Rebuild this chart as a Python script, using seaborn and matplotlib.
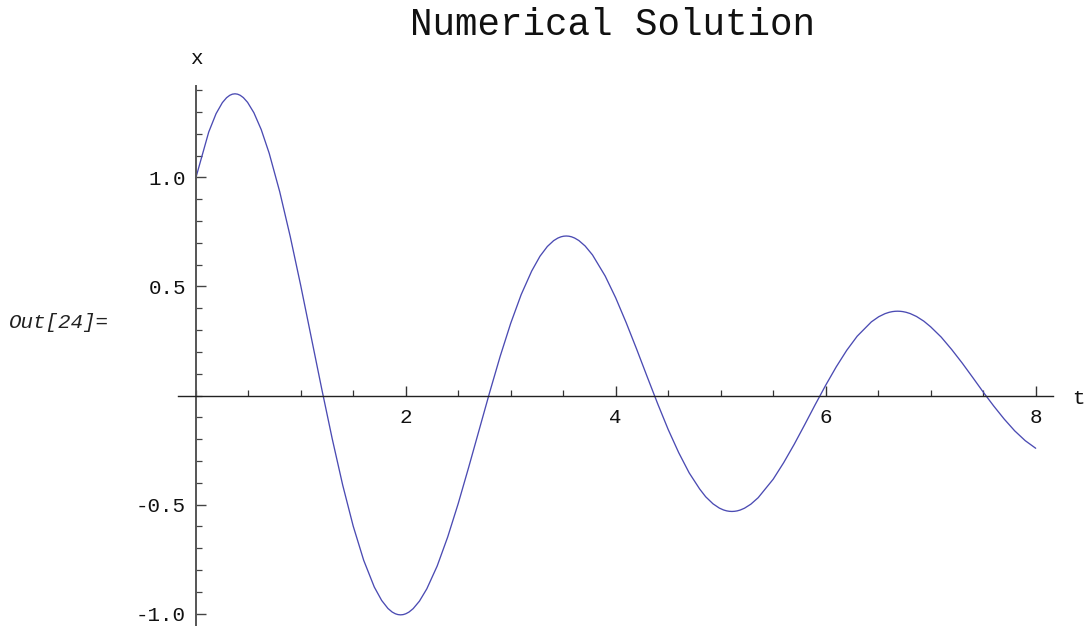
import numpy as np
import pandas as pd
import seaborn as sns
import matplotlib
matplotlib.use("Agg")
import matplotlib.pyplot as plt
from matplotlib.ticker import FixedLocator, MultipleLocator, FuncFormatter

# Sampled solution x(t) for 0 <= t <= 8 (denser samples around each turning point)
t_values = [
    0.0,
    0.124, 0.194, 0.254, 0.294, 0.324, 0.349, 0.374, 0.399, 0.424, 0.454, 0.494, 0.554, 0.624,
    0.7, 0.8, 0.9, 1.0, 1.1, 1.2, 1.3, 1.4, 1.5, 1.6,
    1.701, 1.771, 1.831, 1.871, 1.901, 1.926, 1.951, 1.976, 2.001, 2.031, 2.071, 2.131, 2.201,
    2.3, 2.4, 2.5, 2.6, 2.7, 2.8, 2.9, 3.0, 3.1, 3.2,
    3.279, 3.349, 3.409, 3.449, 3.479, 3.504, 3.529, 3.554, 3.579, 3.609, 3.649, 3.709, 3.779,
    3.9, 4.0, 4.1, 4.2, 4.3, 4.4, 4.5, 4.6, 4.7, 4.8,
    4.857, 4.927, 4.987, 5.027, 5.057, 5.082, 5.107, 5.132, 5.157, 5.187, 5.227, 5.287, 5.357,
    5.5, 5.6, 5.7, 5.8, 5.9, 6.0, 6.1, 6.2, 6.3,
    6.435, 6.505, 6.565, 6.605, 6.635, 6.660, 6.685, 6.710, 6.735, 6.765, 6.805, 6.865, 6.935,
    7.0, 7.1, 7.2, 7.3, 7.4, 7.5, 7.6, 7.7, 7.8, 7.9, 8.0,
]
x_values = [
    0.996,
    1.2085, 1.2929, 1.3435, 1.3660, 1.3769, 1.3822, 1.3839, 1.3822, 1.3770, 1.3664, 1.3448, 1.2972, 1.2198,
    1.111, 0.935, 0.730, 0.505, 0.268, 0.031, -0.198, -0.411, -0.599, -0.756,
    -0.8787, -0.9400, -0.9769, -0.9932, -1.0011, -1.0049, -1.0062, -1.0050, -1.0012, -0.9935, -0.9778, -0.9432, -0.8869,
    -0.782, -0.649, -0.496, -0.329, -0.157, 0.015, 0.180, 0.331, 0.463, 0.571,
    0.6389, 0.6835, 0.7103, 0.7221, 0.7279, 0.7307, 0.7316, 0.7307, 0.7280, 0.7223, 0.7109, 0.6858, 0.6449,
    0.548, 0.448, 0.334, 0.212, 0.086, -0.038, -0.156, -0.262, -0.355, -0.429,
    -0.4645, -0.4969, -0.5164, -0.5250, -0.5292, -0.5312, -0.5319, -0.5312, -0.5293, -0.5252, -0.5169, -0.4986, -0.4688,
    -0.384, -0.308, -0.224, -0.134, -0.042, 0.047, 0.131, 0.207, 0.272,
    0.3377, 0.3613, 0.3754, 0.3817, 0.3848, 0.3862, 0.3867, 0.3862, 0.3848, 0.3818, 0.3758, 0.3625, 0.3409,
    0.315, 0.268, 0.211, 0.149, 0.083, 0.016, -0.048, -0.108, -0.162, -0.207, -0.242,
]

x_major_ticks = [2, 4, 6, 8]
y_major_ticks = [-1.0, -0.5, 0.5, 1.0]

title_text = "Numerical Solution"
cell_label = "Out[24]="

sns.set_style("white")
mono = ["Liberation Mono", "DejaVu Sans Mono"]
plt.rcParams["font.family"] = mono

df = pd.DataFrame({"t": t_values, "x": x_values})

fig = plt.figure(figsize=(10.88, 6.26), dpi=100)
W, H = 1088, 626
ax = fig.add_axes([178 / W, -1 / H, 875 / W, 541 / H])

sns.lineplot(data=df, x="t", y="x", ax=ax, color="#4b4bb3",
             linewidth=0.95, sort=False, estimator=None)

ax.set_xlim(-0.1686, 8.165)
ax.set_ylim(-1.0619, 1.4197)
ax.set_xlabel("")
ax.set_ylabel("")

# Axes crossing at the origin
for side in ("top", "right"):
    ax.spines[side].set_visible(False)
ax.spines["left"].set_position(("data", 0))
ax.spines["bottom"].set_position(("data", 0))
ax.spines["left"].set_color("#555555")
ax.spines["left"].set_linewidth(1.4)
ax.spines["bottom"].set_color("#222222")
ax.spines["bottom"].set_linewidth(1.0)

ax.xaxis.set_major_locator(FixedLocator(x_major_ticks))
ax.xaxis.set_minor_locator(MultipleLocator(0.5))
ax.yaxis.set_major_locator(FixedLocator(y_major_ticks))
ax.yaxis.set_minor_locator(MultipleLocator(0.1))
ax.xaxis.set_major_formatter(FuncFormatter(lambda v, p: f"{v:g}"))
ax.yaxis.set_major_formatter(FuncFormatter(lambda v, p: f"{v:.1f}"))

ax.tick_params(which="both", bottom=True, left=True, top=False, right=False)
ax.tick_params(axis="x", which="major", direction="in", length=7.5, width=1.0,
               color="#333333", pad=9, labelsize=15, labelcolor="#111111")
ax.tick_params(axis="x", which="minor", direction="in", length=4.0, width=0.9,
               color="#333333")
ax.tick_params(axis="y", which="major", direction="in", length=7.5, width=1.0,
               color="#444444", pad=7, labelsize=15, labelcolor="#111111")
ax.tick_params(axis="y", which="minor", direction="in", length=4.5, width=0.9,
               color="#444444")
ax.set_facecolor("white")

fig.text(613 / W, 1 - 25 / H, title_text, ha="center", va="center",
         fontsize=27, color="#111111")
fig.text(196 / W, 1 - 58 / H, "x", ha="center", va="center", fontsize=15,
         color="#111111")
fig.text(1078 / W, 1 - 398 / H, "t", ha="center", va="center", fontsize=15,
         color="#111111")
fig.text(9 / W, 1 - 322 / H, cell_label, ha="left", va="center",
         fontsize=15, style="italic", color="#222222")

fig.savefig("out.png", dpi=100, facecolor="white")
